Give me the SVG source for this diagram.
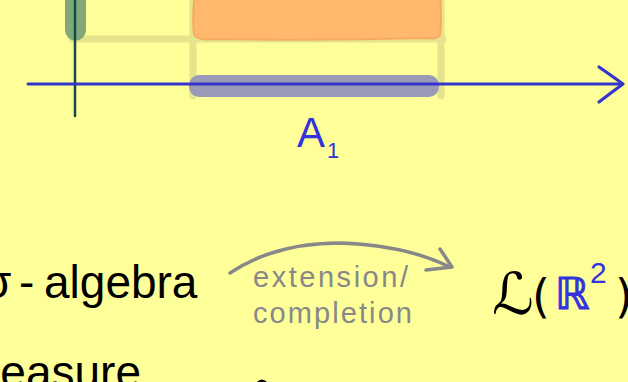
<svg xmlns="http://www.w3.org/2000/svg" width="628" height="382" viewBox="0 0 628 382">
<style>
.hand{font-family:"Liberation Sans","DejaVu Sans",sans-serif}
.math{font-family:"DejaVu Sans","Liberation Sans",sans-serif}
.proj{stroke:#e4e48c;stroke-width:7;stroke-linecap:round;fill:none}
.gray{fill:#888888}
</style>
<rect x="0" y="0" width="628" height="382" fill="#ffff99"/>
<g id="figure">
  <path class="proj" d="M72 39 H443 M193 -5 V96 M441 -5 V96"/>
  <path d="M195 -6 H440 Q442 20 440 35 Q437 40 425 38 Q320 41 215 39 Q196 41 194 34 Q192 15 195 -6 Z" fill="#ffb86c" stroke="#f8aa62" stroke-width="2"/>
  <path d="M65 -5 H86 V30 A10.5 10.5 0 0 1 65 30 Z" fill="#82a878"/>
  <line x1="75" y1="-2" x2="75" y2="116" stroke="#0f4c4c" stroke-width="2.5" stroke-linecap="round"/>
  <rect x="189" y="75" width="250" height="22" rx="10" fill="#9a9ab6"/>
  <g id="axis">
    <line x1="28" y1="84" x2="621" y2="84" stroke="#3535cc" stroke-width="3" stroke-linecap="round"/>
    <path d="M599 67 Q612 76 623 84 Q612 92 599 102" fill="none" stroke="#3535cc" stroke-width="3.2" stroke-linecap="round" stroke-linejoin="round"/>
  </g>
  <g id="label-A1" fill="#3333dd">
    <text class="hand" x="297" y="147" font-size="42">A</text>
    <text class="hand" x="327" y="158" font-size="22">1</text>
  </g>
</g>
<g id="node-sigma-algebra">
  <text class="hand" y="298" font-size="46" fill="#000"><tspan x="-17">σ</tspan><tspan x="19">-</tspan><tspan x="44">algebra</tspan></text>
</g>
<g id="node-measure">
  <text class="hand" x="-38" y="388" font-size="46" fill="#000">measure</text>
</g>
<g id="node-lebesgue">
  <text class="math" x="492" y="314" font-size="58" fill="#000">ℒ</text>
  <text class="math" x="532" y="312" font-size="46" fill="#000">(</text>
  <text class="math" x="555" y="309" font-size="44" fill="#3333dd" stroke="#3333dd" stroke-width="1">ℝ</text>
  <text class="hand" x="590" y="283" font-size="30" fill="#3333dd">2</text>
  <text class="math" x="615" y="312" font-size="46" fill="#000">)</text>
</g>
<g id="connectors">
  <g id="edge-extension">
    <path d="M230 273 Q275 243 340 243 Q405 245 450 267" fill="none" stroke="#888888" stroke-width="3.5" stroke-linecap="round"/>
    <path d="M440 249 L452 267 L426 270" fill="none" stroke="#888888" stroke-width="3.5" stroke-linecap="round" stroke-linejoin="round"/>
    <text class="hand gray" x="253" y="287" font-size="29" textLength="155" lengthAdjust="spacing">extension/</text>
    <text class="hand gray" x="253" y="323" font-size="29" textLength="159" lengthAdjust="spacing">completion</text>
  </g>
  <path id="edge-measure" d="M258 383 Q262 379 266 383" fill="none" stroke="#000" stroke-width="3" stroke-linecap="round"/>
</g>
</svg>
